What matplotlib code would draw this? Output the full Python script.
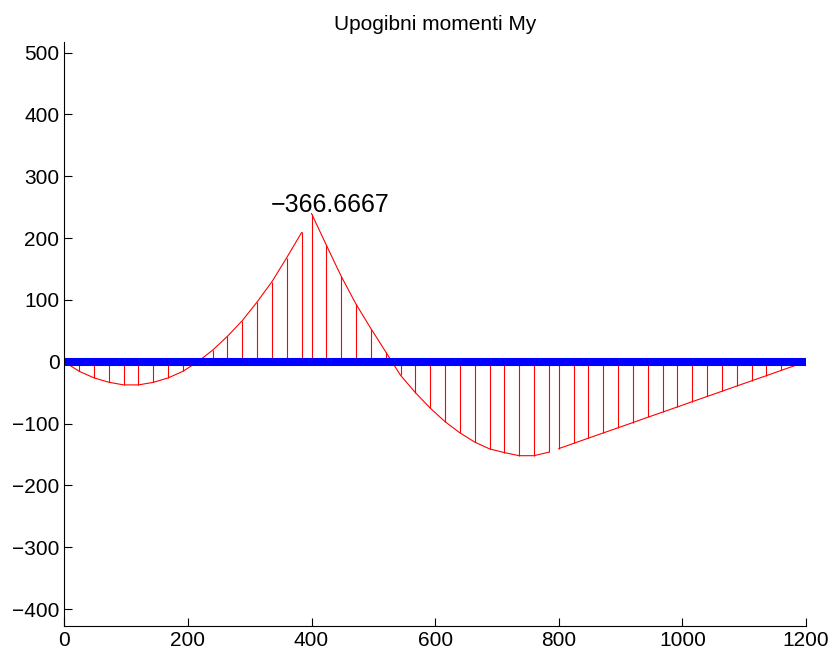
import matplotlib
matplotlib.use("Agg")
import matplotlib.pyplot as plt

plt.rcParams['font.family'] = ['Liberation Sans', 'DejaVu Sans']

# stations and bending moment values (plot units) per beam segment
x1 = [0, 24, 48, 72, 96, 120, 144, 168, 192, 216, 240, 264, 288, 312, 336, 360, 384]
m1 = [0, -15.5, -26.1, -33.2, -37.5, -37.5, -33.4, -26.2, -15.5, 0, 18.7, 41.1, 66.5, 96.7, 129.5, 168.5, 209.0]

x2 = [400, 424, 448, 472, 496, 520, 544, 568, 592, 616, 640, 664, 688, 712, 736, 760, 784]
m2 = [239.6, 188.4, 138.2, 93.0, 53.7, 15.9, -22.0, -50.0, -75.0, -97.0, -115.0, -130.0, -141.0, -147.0, -152.0, -152.0, -146.3]

x3 = [800, 824, 848, 872, 896, 920, 944, 968, 992, 1016, 1040, 1064, 1088, 1112, 1136, 1160, 1184]
m3 = [-140.5, -132.1, -123.6, -115.2, -106.8, -98.4, -89.9, -81.5, -73.1, -64.6, -56.2, -47.8, -39.3, -30.9, -22.5, -14.0, -5.6]

beam_x = [0, 400, 800, 1200]
label_text = '\u2212366.6667'

fig = plt.figure(figsize=(8.35, 6.57), dpi=100)
ax = fig.add_axes([0.077, 0.0476, 0.8883, 0.8884])

for xs, ms in [(x1, m1), (x2, m2), (x3, m3)]:
    ax.plot(xs, ms, color='red', lw=0.8)
    ax.vlines(xs, 0, ms, color='red', lw=0.8)

# beam
for a, b in zip(beam_x[:-1], beam_x[1:]):
    ax.plot([a, b], [0, 0], color='blue', lw=5.8, solid_capstyle='butt')

ax.text(430, 254, label_text, fontsize=18, ha='center', va='center')

ax.set_title('Upogibni momenti My', fontsize=15, pad=9)
ax.set_xlim(0, 1200)
ax.set_ylim(-427, 517)
ax.set_xticks(range(0, 1201, 200))
ax.set_yticks(range(-400, 501, 100))
ax.tick_params(direction='in', length=6, labelsize=15, width=0.8)
ax.spines['top'].set_visible(False)
ax.spines['right'].set_visible(False)
ax.spines['left'].set_linewidth(0.8)
ax.spines['bottom'].set_linewidth(0.8)

fig.savefig('out.png', dpi=100)
